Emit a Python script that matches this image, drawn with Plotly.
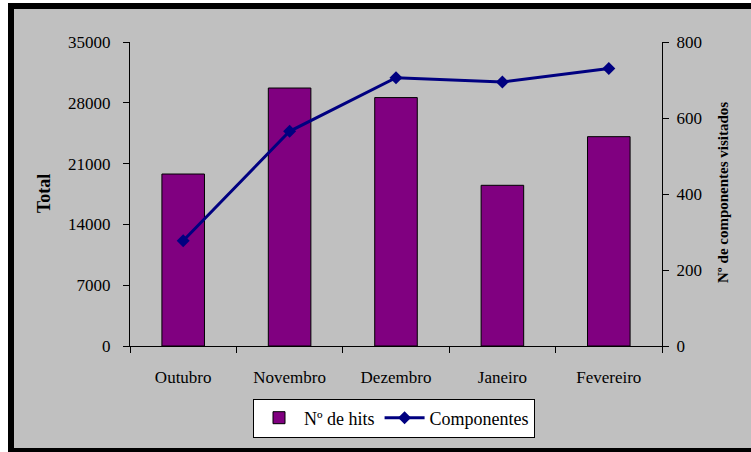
import plotly.graph_objects as go

meses = ["Outubro", "Novembro", "Dezembro", "Janeiro", "Fevereiro"]
hits = [19800, 29700, 28600, 18500, 24100]
componentes = [277, 565, 706, 695, 730]

W, H = 751, 452
L, R, T, B = 130, 662, 42, 346  # plot area in pixels
SERIF = "Liberation Serif, Times New Roman, serif"
GRAY = "#c0c0c0"


def px(x):
    return (x - L) / (R - L)


def py(y):
    return (B - y) / (B - T)


fig = go.Figure()
fig.add_trace(go.Bar(
    x=meses, y=hits, name="Nº de hits",
    marker=dict(color="#800080", line=dict(color="black", width=1)),
))
fig.add_trace(go.Scatter(
    x=meses, y=componentes, name="Componentes", yaxis="y2", mode="lines+markers",
    line=dict(color="#000080", width=3),
    marker=dict(symbol="diamond", size=10, color="#000080"),
))

# moldura: fundo cinza e bordas pretas
shapes = [
    dict(type="rect", xref="paper", yref="paper", x0=px(14), x1=px(W), y0=py(448), y1=py(9),
         fillcolor=GRAY, line_width=0, layer="below"),
    dict(type="rect", xref="paper", yref="paper", x0=px(8), x1=px(14), y0=py(H), y1=py(3),
         fillcolor="black", line_width=0),
    dict(type="rect", xref="paper", yref="paper", x0=px(8), x1=px(W), y0=py(9), y1=py(3),
         fillcolor="black", line_width=0),
    dict(type="rect", xref="paper", yref="paper", x0=px(8), x1=px(W), y0=py(H), y1=py(448),
         fillcolor="black", line_width=0),
]

axis_common = dict(
    showline=True, linecolor="black", linewidth=1, showgrid=False, zeroline=False,
    ticks="outside", ticklen=6, tickcolor="black", tickwidth=1,
    tickfont=dict(family=SERIF, size=17, color="black"),
)

fig.update_layout(
    width=W, height=H,
    margin=dict(l=L, r=W - R, t=T, b=H - B, autoexpand=False),
    paper_bgcolor="white", plot_bgcolor="white",
    font=dict(family=SERIF, color="black"),
    bargap=0.6, showlegend=True, shapes=shapes,
    xaxis=dict(**axis_common, tickson="boundaries", ticklabelstandoff=16),
    yaxis=dict(**axis_common, range=[0, 35000], dtick=7000, tickformat="d",
               ticklabelstandoff=9),
    yaxis2=dict(**axis_common, range=[0, 800], dtick=200, tickformat="d",
                overlaying="y", side="right", ticklabelstandoff=4),
    legend=dict(
        orientation="h", xanchor="center", yanchor="middle", x=px(394), y=py(418),
        bgcolor="white", bordercolor="black", borderwidth=1,
        font=dict(family=SERIF, size=18, color="black"),
        itemwidth=40, tracegroupgap=0,
    ),
    annotations=[
        dict(text="<b>Total</b>", xref="paper", yref="paper", x=px(44), y=py(194),
             xanchor="center", yanchor="middle",
             textangle=-90, showarrow=False, font=dict(family=SERIF, size=18)),
        dict(text="<b>Nº de componentes visitados</b>", xref="paper", yref="paper",
             x=px(723), y=py(193), xanchor="center", yanchor="middle",
             textangle=-90, showarrow=False, font=dict(family=SERIF, size=15)),
    ],
)

fig.write_html("out.html", config=dict(displayModeBar=False),
               post_script="document.body.style.margin='0';")
